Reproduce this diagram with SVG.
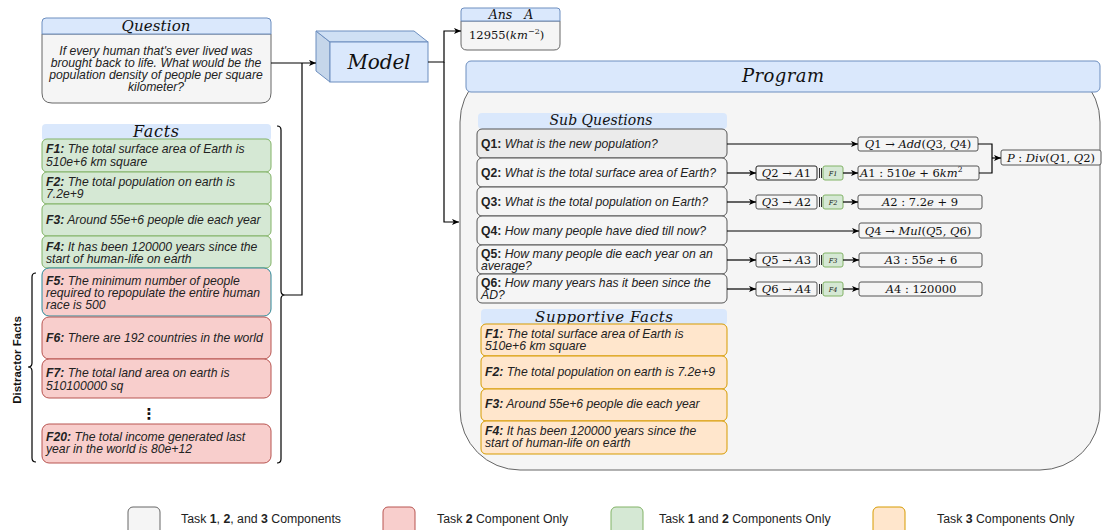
<svg xmlns="http://www.w3.org/2000/svg" width="1105" height="530" viewBox="0 0 1105 530">
<defs>
<marker id="arr" viewBox="0 0 8 8" refX="8" refY="4" markerWidth="7" markerHeight="7" markerUnits="userSpaceOnUse" orient="auto">
<path d="M0,0.5 L8,4 L0,7.5 L2,4 Z" fill="#000"/>
</marker>
<style>
.hdr{fill:#dae8fc;stroke:#6c8ebf;stroke-width:1}
.hdrn{fill:#dae8fc;stroke:none}
.gray{fill:#f5f5f5;stroke:#666;stroke-width:1}
.q{fill:#f5f5f5;stroke:#555;stroke-width:1}
.green{fill:#d5e8d4;stroke:#82b366;stroke-width:1}
.red{fill:#f8cecc;stroke:#b85450;stroke-width:1}
.orange{fill:#ffe6cc;stroke:#d79b00;stroke-width:1}
.mbox{fill:#f5f5f5;stroke:#555;stroke-width:1}
.t{font-family:"Liberation Sans",Arial,sans-serif;font-size:12.2px;font-style:italic;fill:#222}
.tq{font-family:"Liberation Sans",Arial,sans-serif;font-size:12.2px;fill:#222}
.b{font-weight:bold}
.i{font-style:italic}
.m{font-family:"DejaVu Serif","Liberation Serif",serif;font-size:11.5px;fill:#111}
.mi{font-style:italic}
.ttl{font-family:"DejaVu Serif","Liberation Serif",serif;font-style:italic;fill:#111}
.lg{font-family:"Liberation Sans",Arial,sans-serif;font-size:12.3px;fill:#222}
.ln{fill:none;stroke:#000;stroke-width:1.2}
</style>
</defs>

<!-- Question -->
<g id="question">
<path class="gray" d="M42 34 H271 V93 Q271 103 261 103 H52 Q42 103 42 93 Z"/>
<path class="hdr" d="M42 34 V22 Q42 18 46 18 H267 Q271 18 271 22 V34 Z"/>
<text class="ttl" x="156" y="31" font-size="15" text-anchor="middle" textLength="69">Question</text>
<text class="t" text-anchor="middle"><tspan x="156" y="55">If every human that's ever lived was</tspan><tspan x="156" y="67">brought back to life. What would be the</tspan><tspan x="156" y="79">population density of people per square</tspan><tspan x="156" y="91">kilometer?</tspan></text>
</g>

<!-- Model -->
<g id="model">
<polygon points="316,31 330,42 330,82 316,71" fill="#c5d6ea" stroke="#6c8ebf"/>
<polygon points="316,31 414,31 428,42 330,42" fill="#cfe0f4" stroke="#6c8ebf"/>
<rect x="330" y="42" width="98" height="40" fill="#dae8fc" stroke="#6c8ebf"/>
<text class="ttl" x="379" y="69" font-size="20" text-anchor="middle" textLength="63">Model</text>
</g>

<!-- Ans -->
<g id="answer">
<path class="gray" d="M461 21 H560 V44 Q560 50 554 50 H467 Q461 50 461 44 Z"/>
<path class="hdr" d="M461 21 V11 Q461 8 464 8 H557 Q560 8 560 11 V21 Z"/>
<text class="ttl" x="511" y="19" font-size="12.5" text-anchor="middle" xml:space="preserve">Ans   A</text>
<text class="m" x="469" y="39" font-size="12">12955(<tspan class="mi">km</tspan><tspan font-size="8" dy="-5">−2</tspan><tspan dy="5">)</tspan></text>
</g>

<!-- Facts -->
<g id="facts-header">
<rect class="hdrn" x="42" y="124" width="229" height="17" rx="4"/>
<text class="ttl" x="156" y="137" font-size="16" text-anchor="middle" textLength="46">Facts</text>
</g>
<g id="fact-f1">
<rect class="green" x="42" y="139" width="229" height="33" rx="5"/>
<text class="t"><tspan x="46" y="153"><tspan class="b">F1:</tspan> The total surface area of Earth is</tspan><tspan x="46" y="166">510e+6 km square</tspan></text>
</g>
<g id="fact-f2">
<rect class="green" x="42" y="172" width="229" height="32" rx="5"/>
<text class="t"><tspan x="46" y="186"><tspan class="b">F2:</tspan> The total population on earth is</tspan><tspan x="46" y="198">7.2e+9</tspan></text>
</g>
<g id="fact-f3">
<rect class="green" x="42" y="204" width="229" height="32" rx="5"/>
<text class="t" x="46" y="224"><tspan class="b">F3:</tspan> Around 55e+6 people die each year</text>
</g>
<g id="fact-f4">
<rect class="green" x="42" y="236" width="229" height="32" rx="5"/>
<text class="t"><tspan x="46" y="251"><tspan class="b">F4:</tspan> It has been 120000 years since the</tspan><tspan x="46" y="263">start of human-life on earth</tspan></text>
</g>
<g id="fact-f5">
<rect x="42" y="268" width="229" height="48" rx="7" fill="#f8cecc" stroke="#2a8a99"/>
<text class="t"><tspan x="46" y="285"><tspan class="b">F5:</tspan> The minimum number of people</tspan><tspan x="46" y="297">required to repopulate the entire human</tspan><tspan x="46" y="309">race is 500</tspan></text>
</g>
<g id="fact-f6">
<rect class="red" x="42" y="317" width="229" height="42" rx="7"/>
<text class="t" x="46" y="342"><tspan class="b">F6:</tspan> There are 192 countries in the world</text>
</g>
<g id="fact-f7">
<rect class="red" x="42" y="359" width="229" height="39" rx="7"/>
<text class="t"><tspan x="46" y="377"><tspan class="b">F7:</tspan> The total land area on earth is</tspan><tspan x="46" y="390">510100000 sq</tspan></text>
</g>
<g id="fact-dots">
<text x="149" y="419" font-family="DejaVu Sans,sans-serif" font-size="15" font-weight="bold" text-anchor="middle" fill="#111">⋮</text>
</g>
<g id="fact-f20">
<rect class="red" x="42" y="424" width="229" height="39" rx="7"/>
<text class="t"><tspan x="46" y="441"><tspan class="b">F20:</tspan> The total income generated last</tspan><tspan x="46" y="453">year in the world is 80e+12</tspan></text>
</g>

<!-- Braces -->
<g id="facts-brace">
<path class="ln" d="M277 126 Q281 126 281 130 V291 Q281 295 285 295 Q281 295 281 299 V459 Q281 463 277 463"/>
</g>
<g id="distractor-brace">
<path class="ln" d="M36 273 Q32 273 32 277 V363 Q32 367 28 367 Q32 367 32 371 V458 Q32 462 36 462"/>
<text transform="translate(21,360) rotate(-90)" text-anchor="middle" font-family="Liberation Sans,Arial,sans-serif" font-size="11.5" font-weight="bold" fill="#111">Distractor Facts</text>
</g>

<!-- Program container -->
<g id="program">
<rect x="460" y="62" width="640" height="408" rx="60" fill="#f5f5f5" stroke="#666"/>
<rect class="hdr" x="466" y="61" width="634" height="31" rx="5"/>
<text class="ttl" x="783" y="82" font-size="18" text-anchor="middle" textLength="82">Program</text>
</g>

<g id="subq-header">
<rect class="hdrn" x="478" y="113" width="249" height="16" rx="4"/>
<text class="ttl" x="601" y="125" font-size="14" text-anchor="middle" textLength="103">Sub Questions</text>
</g>
<g id="q1">
<rect x="477" y="129" width="250" height="29" rx="5" fill="#ebebeb" stroke="#555"/>
<text class="tq" x="481" y="148"><tspan class="b">Q1:</tspan> <tspan class="i">What is the new population?</tspan></text>
</g>
<g id="q2">
<rect class="q" x="477" y="158" width="250" height="29" rx="5"/>
<text class="tq" x="481" y="177"><tspan class="b">Q2:</tspan> <tspan class="i">What is the total surface area of Earth?</tspan></text>
</g>
<g id="q3">
<rect class="q" x="477" y="187" width="250" height="29" rx="5"/>
<text class="tq" x="481" y="206"><tspan class="b">Q3:</tspan> <tspan class="i">What is the total population on Earth?</tspan></text>
</g>
<g id="q4">
<rect class="q" x="477" y="216" width="250" height="29" rx="5"/>
<text class="tq" x="481" y="235"><tspan class="b">Q4:</tspan> <tspan class="i">How many people have died till now?</tspan></text>
</g>
<g id="q5">
<rect class="q" x="477" y="245" width="250" height="29" rx="5"/>
<text class="tq"><tspan x="481" y="258"><tspan class="b">Q5:</tspan> <tspan class="i">How many people die each year on an</tspan></tspan><tspan class="i" x="481" y="270">average?</tspan></text>
</g>
<g id="q6">
<rect class="q" x="477" y="274" width="250" height="29" rx="5"/>
<text class="tq"><tspan x="481" y="287"><tspan class="b">Q6:</tspan> <tspan class="i">How many years has it been since the</tspan></tspan><tspan class="i" x="481" y="299">AD?</tspan></text>
</g>

<!-- Math boxes -->
<g id="m-q1">
<rect class="mbox" x="858" y="137" width="120" height="14" rx="2"/>
<text class="m" x="918" y="148" text-anchor="middle"><tspan class="mi">Q</tspan>1 → <tspan class="mi">Add</tspan>(<tspan class="mi">Q</tspan>3, <tspan class="mi">Q</tspan>4)</text>
</g>
<g id="m-q2a1">
<rect x="756" y="166" width="61" height="14" rx="2" fill="#f5f5f5" stroke="#222"/>
<text class="m" x="786.5" y="177" text-anchor="middle"><tspan class="mi">Q</tspan>2 → <tspan class="mi">A</tspan>1</text>
</g>
<g id="f1-tag">
<rect class="green" x="823" y="166" width="20" height="14" rx="2"/>
<text class="ttl" x="833" y="176" font-size="6.5" text-anchor="middle">F1</text>
</g>
<g id="m-a1">
<rect class="mbox" x="858" y="166" width="121" height="14" rx="2"/>
<text class="m" x="860" y="177"><tspan class="mi">A</tspan>1 : 510<tspan class="mi">e</tspan> + 6<tspan class="mi">km</tspan><tspan font-size="7.5" dy="-5">2</tspan></text>
</g>
<g id="m-q3a2">
<rect class="mbox" x="756" y="195" width="61" height="14" rx="2"/>
<text class="m" x="786.5" y="206" text-anchor="middle"><tspan class="mi">Q</tspan>3 → <tspan class="mi">A</tspan>2</text>
</g>
<g id="f2-tag">
<rect class="green" x="823" y="195" width="20" height="14" rx="2"/>
<text class="ttl" x="833" y="205" font-size="6.5" text-anchor="middle">F2</text>
</g>
<g id="m-a2">
<rect class="mbox" x="858" y="195" width="124" height="14" rx="2"/>
<text class="m" x="920" y="206" text-anchor="middle"><tspan class="mi">A</tspan>2 : 7.2<tspan class="mi">e</tspan> + 9</text>
</g>
<g id="m-q4">
<rect class="mbox" x="859" y="223" width="122" height="15" rx="2"/>
<text class="m" x="918" y="235" text-anchor="middle"><tspan class="mi">Q</tspan>4 → <tspan class="mi">Mul</tspan>(<tspan class="mi">Q</tspan>5, <tspan class="mi">Q</tspan>6)</text>
</g>
<g id="m-q5a3">
<rect class="mbox" x="756" y="253" width="61" height="14" rx="2"/>
<text class="m" x="786.5" y="264" text-anchor="middle"><tspan class="mi">Q</tspan>5 → <tspan class="mi">A</tspan>3</text>
</g>
<g id="f3-tag">
<rect class="green" x="823" y="253" width="20" height="14" rx="2"/>
<text class="ttl" x="833" y="263" font-size="6.5" text-anchor="middle">F3</text>
</g>
<g id="m-a3">
<rect class="mbox" x="859" y="253" width="123" height="14" rx="2"/>
<text class="m" x="921" y="264" text-anchor="middle"><tspan class="mi">A</tspan>3 : 55<tspan class="mi">e</tspan> + 6</text>
</g>
<g id="m-q6a4">
<rect class="mbox" x="756" y="282" width="61" height="14" rx="2"/>
<text class="m" x="786.5" y="293" text-anchor="middle"><tspan class="mi">Q</tspan>6 → <tspan class="mi">A</tspan>4</text>
</g>
<g id="f4-tag">
<rect class="green" x="823" y="282" width="20" height="14" rx="2"/>
<text class="ttl" x="833" y="292" font-size="6.5" text-anchor="middle">F4</text>
</g>
<g id="m-a4">
<rect class="mbox" x="859" y="282" width="123" height="14" rx="2"/>
<text class="m" x="921" y="293" text-anchor="middle"><tspan class="mi">A</tspan>4 : 120000</text>
</g>
<g id="m-p">
<rect class="mbox" x="1001" y="150" width="100" height="15" rx="2"/>
<text class="m" x="1051" y="162" text-anchor="middle"><tspan class="mi">P</tspan> : <tspan class="mi">Div</tspan>(<tspan class="mi">Q</tspan>1, <tspan class="mi">Q</tspan>2)</text>
</g>

<!-- Supportive facts -->
<g id="sup-header">
<rect class="hdrn" x="481" y="309" width="246" height="16" rx="4"/>
<text class="ttl" x="604" y="322" font-size="15" text-anchor="middle" textLength="138">Supportive Facts</text>
</g>
<g id="sup-f1">
<rect class="orange" x="481" y="324" width="246" height="32" rx="5"/>
<text class="t"><tspan x="485" y="338"><tspan class="b">F1:</tspan> The total surface area of Earth is</tspan><tspan x="485" y="350">510e+6 km square</tspan></text>
</g>
<g id="sup-f2">
<rect class="orange" x="481" y="356" width="246" height="33" rx="5"/>
<text class="t" x="485" y="376"><tspan class="b">F2:</tspan> The total population on earth is 7.2e+9</text>
</g>
<g id="sup-f3">
<rect class="orange" x="481" y="389" width="246" height="32" rx="5"/>
<text class="t" x="485" y="408"><tspan class="b">F3:</tspan> Around 55e+6 people die each year</text>
</g>
<g id="sup-f4">
<rect class="orange" x="481" y="421" width="246" height="33" rx="5"/>
<text class="t"><tspan x="485" y="435"><tspan class="b">F4:</tspan> It has been 120000 years since the</tspan><tspan x="485" y="447">start of human-life on earth</tspan></text>
</g>

<!-- Connectors -->
<g id="connectors">
<path class="ln" d="M271 63 H316" marker-end="url(#arr)"/>
<path class="ln" d="M285 295 H302 V63"/>
<path class="ln" d="M428 62 H444 V31 H461" marker-end="url(#arr)"/>
<path class="ln" d="M444 62 V222 H459" marker-end="url(#arr)"/>
<path class="ln" d="M727 144 H858" marker-end="url(#arr)"/>
<path class="ln" d="M727 173 H756" marker-end="url(#arr)"/>
<path class="ln" d="M843 173 H858" marker-end="url(#arr)"/>
<path class="ln" d="M727 202 H756" marker-end="url(#arr)"/>
<path class="ln" d="M843 202 H858" marker-end="url(#arr)"/>
<path class="ln" d="M727 231 H859" marker-end="url(#arr)"/>
<path class="ln" d="M727 260 H756" marker-end="url(#arr)"/>
<path class="ln" d="M843 260 H859" marker-end="url(#arr)"/>
<path class="ln" d="M727 289 H756" marker-end="url(#arr)"/>
<path class="ln" d="M843 289 H859" marker-end="url(#arr)"/>
<path class="ln" d="M978 144 H992 V173 H979"/>
<path class="ln" d="M992 158 H1001" marker-end="url(#arr)"/>
<path d="M819.5 168 V178 M821.5 168 V178 M819.5 197 V207 M821.5 197 V207 M819.5 255 V265 M821.5 255 V265 M819.5 284 V294 M821.5 284 V294" stroke="#333" stroke-width="1"/>
</g>

<!-- Legend -->
<g id="legend">
<rect x="128" y="507" width="32" height="32" rx="5" fill="#f5f5f5" stroke="#666"/>
<text class="lg" x="181" y="523">Task <tspan font-weight="bold">1</tspan>, <tspan font-weight="bold">2</tspan>, and <tspan font-weight="bold">3</tspan> Components</text>
<rect x="383" y="507" width="32" height="32" rx="5" fill="#f8cecc" stroke="#b85450"/>
<text class="lg" x="437" y="523">Task <tspan font-weight="bold">2</tspan> Component Only</text>
<rect x="611" y="507" width="32" height="32" rx="5" fill="#d5e8d4" stroke="#82b366"/>
<text class="lg" x="659" y="523">Task <tspan font-weight="bold">1</tspan> and <tspan font-weight="bold">2</tspan> Components Only</text>
<rect x="873" y="507" width="32" height="32" rx="5" fill="#ffe6cc" stroke="#d79b00"/>
<text class="lg" x="937" y="523">Task <tspan font-weight="bold">3</tspan> Components Only</text>
</g>
</svg>
